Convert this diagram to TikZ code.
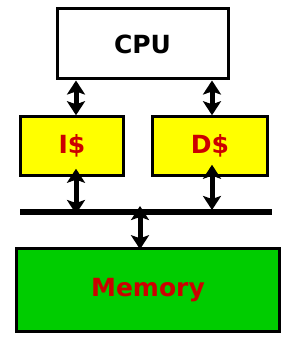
\documentclass[tikz,border=0pt]{standalone}
\usepackage{fontspec}
\setmainfont{DejaVu Sans}
\usetikzlibrary{arrows.meta, positioning}

\definecolor{cachey}{HTML}{FFFF00}
\definecolor{memg}{HTML}{00CC00}
\definecolor{lblred}{HTML}{CC0000}

\begin{document}
\begin{tikzpicture}[x=1pt, y=-1pt,
    unit/.style={draw, line width=3pt, font=\fontsize{25}{28}\selectfont\bfseries},
    bidir/.style={{Stealth[length=14pt,width=18pt,inset=3pt]}-{Stealth[length=14pt,width=18pt,inset=3pt]}, line width=5pt},
  ]
        \useasboundingbox (0,0) rectangle (302,350);
        \node[unit, minimum width=171pt, minimum height=70pt] (cpu) at (142.5,44) {CPU};
        \node[unit, fill=cachey, text=lblred, line width=2.5pt, minimum width=103pt, minimum height=59pt] (ic) at (72,146) {I\$};
        \node[unit, fill=cachey, text=lblred, line width=2.5pt, minimum width=115pt, minimum height=59pt] (dc) at (210,146) {D\$};
        \node[unit, fill=memg, text=lblred, line width=2.5pt, minimum width=263pt, minimum height=83pt] (mem) at (148,290) {Memory};
        \coordinate (busW) at (20,212);
        \coordinate (busE) at (272,212);
        \draw[line width=5.5pt] (busW) -- (busE);
        \draw[bidir] ([xshift=4pt]ic.north) -- ([xshift=4pt]ic.north |- cpu.south);
        \draw[bidir] ([xshift=2pt]dc.north) -- ([xshift=2pt]dc.north |- cpu.south);
        \draw[bidir] ([xshift=4pt,yshift=8pt]ic.south) -- ([xshift=4pt,yshift=-2pt]ic.south |- busW);
        \draw[bidir] ([xshift=2pt,yshift=12pt]dc.south) -- ([xshift=2pt,yshift=2pt]dc.south |- busW);
        \draw[bidir] ([xshift=-8pt,yshift=-2pt]mem.north) -- ([xshift=-8pt,yshift=6pt]mem.north |- busW);
    \end{tikzpicture}
\end{document}
